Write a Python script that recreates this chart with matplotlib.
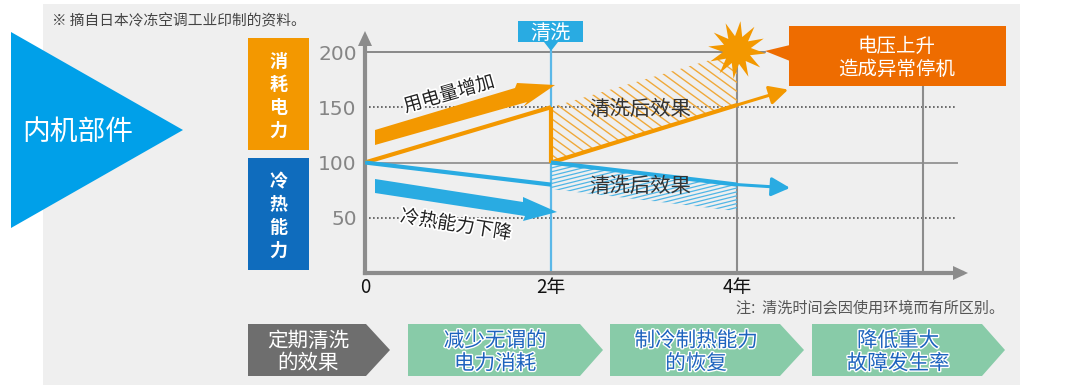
import matplotlib
matplotlib.use("Agg")
import matplotlib.pyplot as plt
import numpy as np
import matplotlib.patheffects as pe
from matplotlib.patches import Polygon, Rectangle
from matplotlib.collections import LineCollection

plt.rcParams['font.family'] = ['Noto Sans CJK SC', 'DejaVu Sans']

# ---- data ----
x_ticks = [0, 2, 4, 6]
x_tick_labels = ['0', '2年', '4年', '']
y_ticks = [50, 100, 150, 200]
y_tick_labels = ['50', '100', '150', '200']

power_years = [0, 2]
power_values = [100, 150]
power_clean_years = [2, 4, 4.55]
power_clean_values = [100, 152, 166]
power_noclean_years = [2, 4]
power_noclean_values = [150, 200]

cap_years = [0, 2]
cap_values = [100, 80]
cap_clean_years = [2, 4, 4.57]
cap_clean_values = [100, 80, 77]
cap_noclean_years = [2, 4]
cap_noclean_values = [76, 56]

side_left = ['消耗电力', '冷热能力']
steps = ['定期清洗\n的效果', '减少无谓的\n电力消耗', '制冷制热能力\n的恢复', '降低重大\n故障发生率']

ORANGE = '#F39800'
BLUE = '#29ABE2'
GRAY = '#8C8C8C'
W, H = 1080, 392

fig = plt.figure(figsize=(W / 100, H / 100), dpi=100, facecolor='white')


def pixel_axes(z):
    a = fig.add_axes([0, 0, 1, 1], zorder=z)
    a.set_xlim(0, W)
    a.set_ylim(H, 0)
    a.axis('off')
    a.patch.set_alpha(0)
    return a


bg = pixel_axes(0)
fg = pixel_axes(3)

bg.add_patch(Rectangle((43, 4), 977, 381, fc='#EFEFEF', ec='none'))

# ---- chart axes, placed so the scale matches the picture ----
X0, PX_YEAR = 365, 93.0
Y0, PX_UNIT = 273, 1.105
XMAX = (962 - X0) / PX_YEAR
YMAX = (Y0 - 38) / PX_UNIT
ch = fig.add_axes([X0 / W, 1 - Y0 / H, (962 - X0) / W, (Y0 - 38) / H], zorder=2)
ch.patch.set_alpha(0)
ch.set_xlim(0, XMAX)
ch.set_ylim(0, YMAX)
for s in ('top', 'right'):
    ch.spines[s].set_visible(False)
for s in ('left', 'bottom'):
    ch.spines[s].set_color(GRAY)
    ch.spines[s].set_linewidth(3)
ch.set_xticks(x_ticks)
ch.set_xticklabels(x_tick_labels, fontsize=13.5, color='#111111', fontweight='medium')
ch.set_yticks(y_ticks)
ch.set_yticklabels(y_tick_labels, fontsize=14.5, color='#858585', family='DejaVu Sans')
ch.tick_params(length=0)
ch.tick_params(axis='y', pad=6)
ch.tick_params(axis='x', pad=3)

# grid
ch.plot([0, 4.3], [200, 200], color='#777777', lw=1.2, zorder=1)
ch.plot([0, 6.366], [100, 100], color='#999999', lw=1.4, zorder=1)
for v in (50, 150):
    ch.plot([0, 6.366], [v, v], color='#555555', lw=1.2, ls=(0, (1, 1.4)), zorder=1)
ch.plot([4, 4], [0, 200], color=GRAY, lw=1.5, zorder=1)
ch.plot([6, 6], [0, 190], color=GRAY, lw=1.5, zorder=1)
ch.plot([2, 2], [0, 201], color='#5BB8E8', lw=1.6, zorder=2)


def hatched(xs, top, bottom, color, angle_deg, step, lw):
    """Region between two series filled with slanted hatch lines."""
    verts = list(zip(xs, top)) + list(zip(xs[::-1], bottom[::-1]))
    poly = Polygon(verts, closed=True, fc='none', ec='none', transform=ch.transData)
    ch.add_patch(poly)
    slope = np.tan(np.radians(angle_deg))
    segs = []
    for c in np.arange(-1200, 1400, step):
        segs.append([(0, c), (W, c + slope * W)])
    lc = LineCollection(segs, colors=color, linewidths=lw, transform=bg.transData, zorder=2)
    ch.add_collection(lc, autolim=False)
    lc.set_clip_path(poly)


hatched(power_noclean_years, power_noclean_values, power_clean_values[:2], '#F0A93A', 36, 9, 1.0)
hatched(cap_noclean_years, cap_clean_values[:2], cap_noclean_values, '#4FB6E6', -14, 3.9, 0.9)

# series lines
ch.plot(power_years, power_values, color=ORANGE, lw=3, solid_capstyle='butt', zorder=4)
ch.plot([2, 2], [100, 150], color=ORANGE, lw=3, solid_capstyle='butt', zorder=4)
ch.plot(cap_years, cap_values, color=BLUE, lw=3, solid_capstyle='butt', zorder=4)
for xs, ys, c in ((power_clean_years, power_clean_values, ORANGE),
                  (cap_clean_years, cap_clean_values, BLUE)):
    ch.plot(xs[:2], ys[:2], color=c, lw=3, solid_capstyle='butt', zorder=4)
    ch.annotate('', xy=(xs[2], ys[2]), xytext=(xs[1], ys[1]), zorder=4,
                arrowprops=dict(arrowstyle='-|>,head_length=0.75,head_width=0.38', color=c, lw=2.2,
                                mutation_scale=15, shrinkA=0, shrinkB=0))

# axis arrow heads
fg.add_patch(Polygon([(365, 31), (358, 46), (372, 46)], fc=GRAY, ec='none'))
fg.add_patch(Polygon([(968, 273), (953, 266), (953, 280)], fc=GRAY, ec='none'))

# big trend arrows
fg.add_patch(Polygon([(375, 130), (515, 88), (517, 83), (555, 85), (523, 107), (527, 102), (375, 145)],
                     fc=ORANGE, ec='none'))
fg.add_patch(Polygon([(375, 179), (523, 202), (523, 197), (557, 212), (523, 221), (525, 216), (375, 193)],
                     fc=BLUE, ec='none'))

halo = [pe.withStroke(linewidth=2.5, foreground='white')]
fg.text(449, 94, '用电量增加', fontsize=13.5, rotation=16, ha='center', va='center', color='#222222',
        path_effects=halo, rotation_mode='anchor')
fg.text(456, 225, '冷热能力下降', fontsize=13.5, rotation=-9, ha='center', va='center', color='#222222',
        path_effects=halo, rotation_mode='anchor')
fg.text(640, 109, '清洗后效果', fontsize=14.7, ha='center', va='center', color='#333333')
fg.text(640, 186, '清洗后效果', fontsize=14.7, ha='center', va='center', color='#333333')

# left triangle
fg.add_patch(Polygon([(11, 32), (183, 130), (11, 228)], fc='#00A0E9', ec='none'))
fg.text(78, 132, '内机部件', fontsize=20, color='white', ha='center', va='center')

# note texts
fg.text(52, 21, '※ 摘自日本冷冻空调工业印制的资料。', fontsize=10.6, color='#444444', ha='left', va='center')
fg.text(736, 308, '注:  清洗时间会因使用环境而有所区别。', fontsize=10.9, color='#555555', ha='left', va='center')

# side boxes
for (y0, y1, col, label, ys) in ((38, 150, ORANGE, side_left[0], (61, 84, 107, 130)),
                                 (158, 270, '#0F6CBD', side_left[1], (182, 204, 227, 250))):
    fg.add_patch(Rectangle((248, y0), 61, y1 - y0, fc=col, ec='none'))
    for ch_, y in zip(label, ys):
        fg.text(278.5, y, ch_, fontsize=13, color='white', ha='center', va='center', fontweight='bold')

# cleaning tag
fg.add_patch(Rectangle((518, 21), 65, 21, fc=BLUE, ec='none'))
fg.add_patch(Polygon([(544, 42), (551, 51), (558, 42)], fc=BLUE, ec='none'))
fg.text(550.5, 33, '清洗', fontsize=14.5, color='white', ha='center', va='center')

# burst
n = 12
ang = np.linspace(0, 2 * np.pi, 2 * n, endpoint=False) + 0.12
rad = np.where(np.arange(2 * n) % 2 == 0, 29, 14)
fg.add_patch(Polygon(np.c_[737 + rad * np.cos(ang), 50 + rad * np.sin(ang)], fc=ORANGE, ec='none'))

# callout
fg.add_patch(Rectangle((789, 26), 217, 60, fc='#EE6C00', ec='none'))
fg.add_patch(Polygon([(790, 45), (765, 51), (790, 61)], fc='#EE6C00', ec='none'))
fg.text(897, 58, '电压上升\n造成异常停机', fontsize=14, color='white', ha='center', va='center', linespacing=1.15)

# bottom chevrons
chev = [(248, 366, 390, '#6E6E6E'), (408, 580, 603, '#88CBA8'),
        (610, 780, 804, '#88CBA8'), (812, 982, 1005, '#88CBA8')]
for i, ((x0, xs, xt, col), txt) in enumerate(zip(chev, steps)):
    fg.add_patch(Polygon([(x0, 324), (xs, 324), (xt, 350), (xs, 376), (x0, 376)], fc=col, ec='none'))
    cx = (x0 + xs) / 2 + 1
    if i == 0:
        fg.text(cx, 352, txt, fontsize=14.8, color='white', ha='center', va='center', linespacing=1.05)
    else:
        fg.text(cx, 352, txt, fontsize=14.8, color='#1D63BE', ha='center', va='center', linespacing=1.05,
                path_effects=[pe.withStroke(linewidth=2, foreground='white')])

fig.savefig('out.png', dpi=100, facecolor='white')
